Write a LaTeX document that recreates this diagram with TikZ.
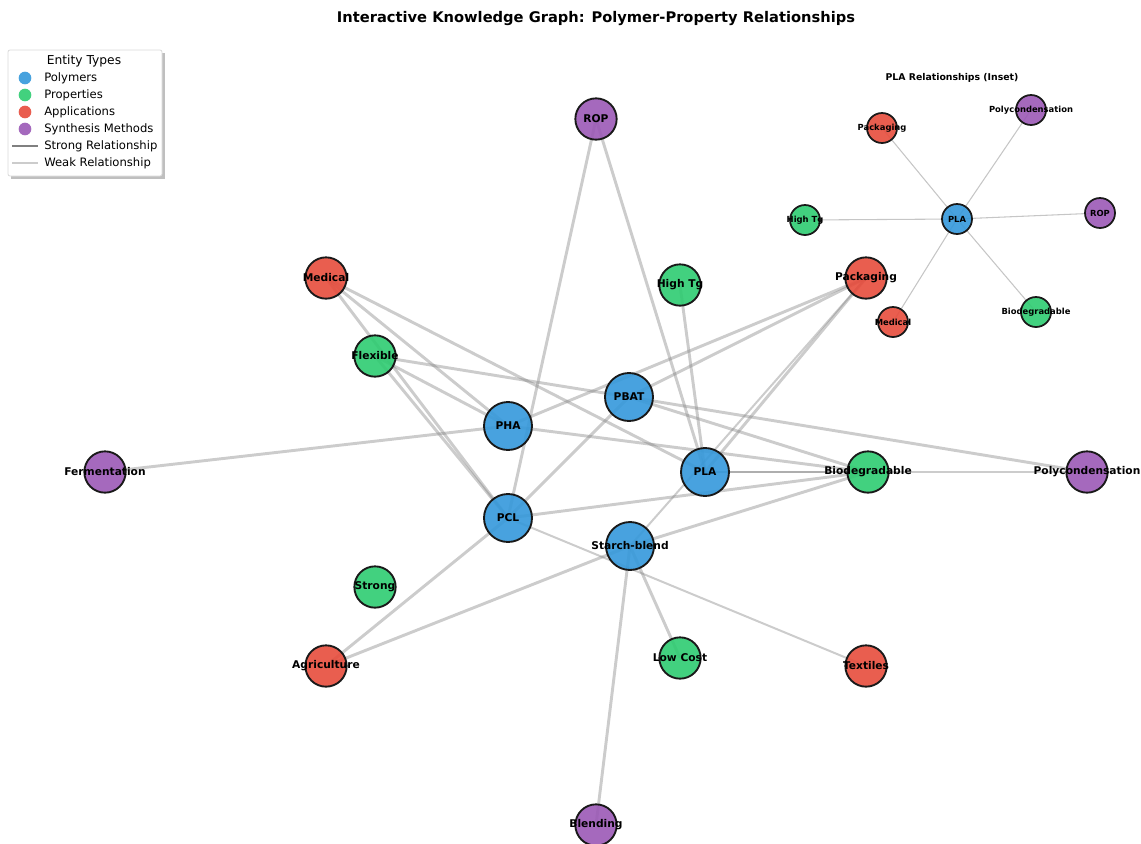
\documentclass[tikz,border=0pt]{standalone}
\usepackage{fontspec}
\setmainfont{DejaVu Sans}
\definecolor{cpoly}{HTML}{3498DB}
\definecolor{cprop}{HTML}{2ECC71}
\definecolor{capp}{HTML}{E74C3C}
\definecolor{csyn}{HTML}{9B59B6}
\begin{document}
\begin{tikzpicture}[x=0.75pt,y=-0.75pt,
  base/.style={circle, draw=black!90, line width=1.4pt, fill opacity=0.9, inner sep=0pt},
  big/.style={base, minimum size=36pt},
  mid/.style={base, minimum size=31pt},
  small/.style={base, minimum size=22.5pt, line width=1.3pt},
  polyn/.style={fill=cpoly}, propn/.style={fill=cprop}, appn/.style={fill=capp}, synn/.style={fill=csyn},
  lbl/.style={font=\bfseries\fontsize{8}{9}\selectfont, text=black},
  slbl/.style={font=\bfseries\fontsize{6.3}{7}\selectfont, text=black},
  edge/.style={draw=gray, opacity=0.4, line width=2.2pt},
  edgethin/.style={draw=gray, opacity=0.4, line width=1.5pt},
  iedge/.style={draw=gray, opacity=0.45, line width=0.8pt},
  lgtxt/.style={font=\fontsize{8.7}{10}\selectfont, anchor=west, inner sep=0pt}
]
\useasboundingbox (0,0) rectangle (1141,843);

% ---------- titles
\node[font=\bfseries\fontsize{11}{13}\selectfont] (title) at (596,19) {Interactive Knowledge Graph: Polymer-Property Relationships};
\node[font=\bfseries\fontsize{7}{8}\selectfont] (ititle) at (952,78) {PLA Relationships (Inset)};

% ---------- main node positions
\coordinate (p-rop) at (596,119);
\coordinate (p-med) at (326,278);
\coordinate (p-htg) at (680,285);
\coordinate (p-pack) at (866,278);
\coordinate (p-flex) at (375,356);
\coordinate (p-pbat) at (629,397);
\coordinate (p-pha) at (508,426);
\coordinate (p-ferm) at (105,472);
\coordinate (p-pla) at (705,472);
\coordinate (p-bio) at (868,472);
\coordinate (p-polyc) at (1087,472);
\coordinate (p-pcl) at (508,518);
\coordinate (p-starch) at (630,546);
\coordinate (p-strong) at (375,587);
\coordinate (p-agri) at (326,666);
\coordinate (p-low) at (680,658);
\coordinate (p-tex) at (866,666);
\coordinate (p-blend) at (596,825);

% ---------- main edges
\draw[edge] (p-rop) -- (p-pcl);
\draw[edge] (p-rop) -- (p-pla);
\draw[edge] (p-ferm) -- (p-pha);
\draw[edge] (p-flex) -- (p-pcl);
\draw[edge] (p-med) -- (p-pcl);
\draw[edge] (p-med) -- (p-pha);
\draw[edge] (p-med) -- (p-pla);
\draw[edge] (p-flex) -- (p-pha);
\draw[edge] (p-flex) -- (p-pbat);
\draw[edge] (p-pbat) -- (p-polyc);
\draw[edge] (p-pbat) -- (p-bio);
\draw[edge] (p-pha) -- (p-bio);
\draw[edge] (p-pha) -- (p-pack);
\draw[edge] (p-pbat) -- (p-pack);
\draw[edge] (p-pla) -- (p-pack);
\draw[edgethin] (p-starch) -- (p-pack);
\draw[edge] (p-htg) -- (p-pla);
\draw[edge] (p-pcl) -- (p-pbat);
\draw[edge] (p-pcl) -- (p-bio);
\draw[edge] (p-starch) -- (p-bio);
\draw[edge] (p-starch) -- (p-low);
\draw[edge] (p-starch) -- (p-blend);
\draw[edge] (p-agri) -- (p-pcl);
\draw[edge] (p-agri) -- (p-starch);
\draw[edgethin] (p-pcl) -- (p-tex);
\draw[edgethin] (p-pla) -- (p-polyc);
\draw[edge] (p-pla) -- (p-bio);

% ---------- main nodes
\node[mid, synn] (rop) at (p-rop) {};
\node[mid, appn] (med) at (p-med) {};
\node[mid, propn] (htg) at (p-htg) {};
\node[mid, appn] (pack) at (p-pack) {};
\node[mid, propn] (flex) at (p-flex) {};
\node[big, polyn] (pbat) at (p-pbat) {};
\node[big, polyn] (pha) at (p-pha) {};
\node[mid, synn] (ferm) at (p-ferm) {};
\node[big, polyn] (pla) at (p-pla) {};
\node[mid, propn] (bio) at (p-bio) {};
\node[mid, synn] (polyc) at (p-polyc) {};
\node[big, polyn] (pcl) at (p-pcl) {};
\node[big, polyn] (starch) at (p-starch) {};
\node[mid, propn] (strong) at (p-strong) {};
\node[mid, appn] (agri) at (p-agri) {};
\node[mid, propn] (low) at (p-low) {};
\node[mid, appn] (tex) at (p-tex) {};
\node[mid, synn] (blend) at (p-blend) {};

% ---------- main labels
\node[lbl] (l-rop) at (rop) {ROP};
\node[lbl] (l-med) at (med) {Medical};
\node[lbl] (l-htg) at (htg) {High Tg};
\node[lbl] (l-pack) at (pack) {Packaging};
\node[lbl] (l-flex) at (flex) {Flexible};
\node[lbl] (l-pbat) at (pbat) {PBAT};
\node[lbl] (l-pha) at (pha) {PHA};
\node[lbl] (l-ferm) at (ferm) {Fermentation};
\node[lbl] (l-pla) at (pla) {PLA};
\node[lbl] (l-bio) at (bio) {Biodegradable};
\node[lbl] (l-polyc) at (polyc) {Polycondensation};
\node[lbl] (l-pcl) at (pcl) {PCL};
\node[lbl] (l-starch) at (starch) {Starch-blend};
\node[lbl] (l-strong) at (strong) {Strong};
\node[lbl] (l-agri) at (agri) {Agriculture};
\node[lbl] (l-low) at (low) {Low Cost};
\node[lbl] (l-tex) at (tex) {Textiles};
\node[lbl] (l-blend) at (blend) {Blending};

% ---------- inset
\coordinate (q-pla) at (957,219);
\coordinate (q-pack) at (882,128);
\coordinate (q-polyc) at (1031,110);
\coordinate (q-htg) at (805,220);
\coordinate (q-rop) at (1100,213);
\coordinate (q-med) at (893,322);
\coordinate (q-bio) at (1036,312);
\draw[iedge] (q-pla) -- (q-pack);
\draw[iedge] (q-pla) -- (q-polyc);
\draw[iedge] (q-pla) -- (q-htg);
\draw[iedge] (q-pla) -- (q-rop);
\draw[iedge] (q-pla) -- (q-med);
\draw[iedge] (q-pla) -- (q-bio);
\node[small, polyn] (ipla) at (q-pla) {};
\node[small, appn] (ipack) at (q-pack) {};
\node[small, synn] (ipolyc) at (q-polyc) {};
\node[small, propn] (ihtg) at (q-htg) {};
\node[small, synn] (irop) at (q-rop) {};
\node[small, appn] (imed) at (q-med) {};
\node[small, propn] (ibio) at (q-bio) {};
\node[slbl] (li-pla) at (ipla) {PLA};
\node[slbl] (li-pack) at (ipack) {Packaging};
\node[slbl] (li-polyc) at (ipolyc) {Polycondensation};
\node[slbl] (li-htg) at (ihtg) {High Tg};
\node[slbl] (li-rop) at (irop) {ROP};
\node[slbl] (li-med) at (imed) {Medical};
\node[slbl] (li-bio) at (ibio) {Biodegradable};

% ---------- legend
\fill[black!25] (10.5,52.5) rectangle (164.5,178.5);
\draw[black!15, fill=white, rounded corners=1.5pt, line width=0.6pt] (8,50) rectangle (162,176);
\node[font=\fontsize{9.2}{11}\selectfont] (lg-title) at (84,61) {Entity Types};
\node[circle, fill=cpoly, fill opacity=0.9, minimum size=9.5pt, inner sep=0pt] (lg-c1) at (25,78) {};
\node[circle, fill=cprop, fill opacity=0.9, minimum size=9.5pt, inner sep=0pt] (lg-c2) at (25,95) {};
\node[circle, fill=capp, fill opacity=0.9, minimum size=9.5pt, inner sep=0pt] (lg-c3) at (25,112) {};
\node[circle, fill=csyn, fill opacity=0.9, minimum size=9.5pt, inner sep=0pt] (lg-c4) at (25,129) {};
\coordinate (lg-s1) at (12,146); \coordinate (lg-s2) at (38,146);
\coordinate (lg-w1) at (12,163); \coordinate (lg-w2) at (38,163);
\draw[draw=gray, line width=2.2pt] (lg-s1) -- (lg-s2);
\draw[draw=black!20, line width=0.9pt] (lg-w1) -- (lg-w2);
\node[lgtxt] (lg-t1) at (44,78) {Polymers};
\node[lgtxt] (lg-t2) at (44,95) {Properties};
\node[lgtxt] (lg-t3) at (44,112) {Applications};
\node[lgtxt] (lg-t4) at (44,129) {Synthesis Methods};
\node[lgtxt] (lg-t5) at (44,146) {Strong Relationship};
\node[lgtxt] (lg-t6) at (44,163) {Weak Relationship};
\end{tikzpicture}
\end{document}
